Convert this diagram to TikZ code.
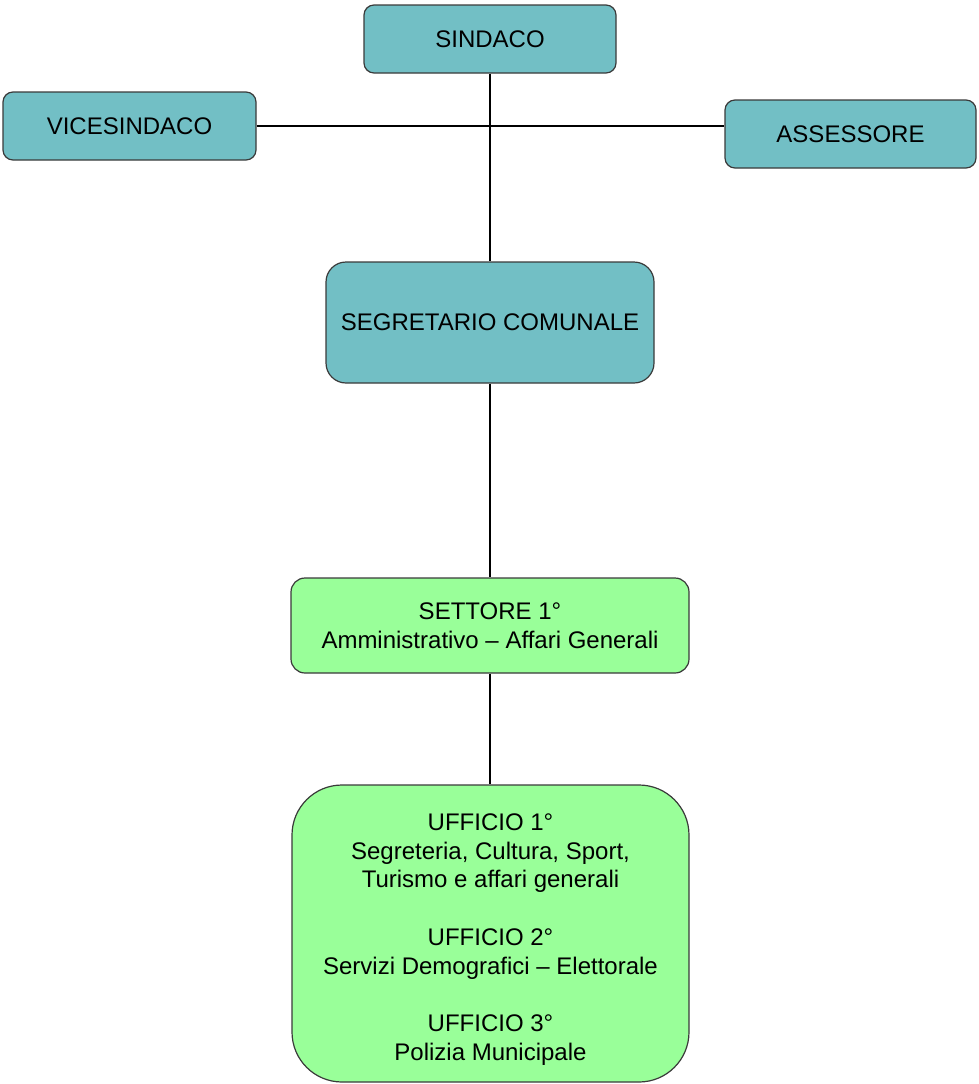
\documentclass[tikz,border=0pt]{standalone}
\usepackage{fontspec}
\setmainfont{Liberation Sans}
\definecolor{tealbox}{HTML}{72BFC5}
\definecolor{greenbox}{HTML}{99FF99}
\definecolor{edgegray}{HTML}{3A3A3A}
\begin{document}
\begin{tikzpicture}[x=1pt,y=1pt,
  box/.style={draw=edgegray, line width=1.2pt, align=center, inner sep=0pt,
    font=\fontsize{24}{28.75}\selectfont},
  tbox/.style={box, fill=tealbox},
  gbox/.style={box, fill=greenbox},
  link/.style={draw=black, line width=1.1pt}]
\useasboundingbox (0,0) rectangle (978,-1084);
\node[tbox, minimum width=252, minimum height=68, rounded corners=10] (sindaco) at (490,-39) {SINDACO};
\node[tbox, minimum width=253, minimum height=68, rounded corners=10] (vice) at (129.5,-126) {VICESINDACO};
\node[tbox, minimum width=251, minimum height=68, rounded corners=10] (asse) at (850.5,-134) {ASSESSORE};
\node[tbox, minimum width=328, minimum height=121, rounded corners=20] (segr) at (490,-322.5) {SEGRETARIO COMUNALE};
\node[gbox, minimum width=398, minimum height=95, rounded corners=14] (sett) at (490,-625.5) {SETTORE 1°\\Amministrativo -- Affari Generali};
\node[gbox, minimum width=397, minimum height=297, rounded corners=50] (uff) at (490.5,-933.5) {\rule{0pt}{8pt}\\[-8pt]UFFICIO 1°\\Segreteria, Cultura, Sport,\\Turismo e affari generali\\[28.75pt]UFFICIO 2°\\Servizi Demografici -- Elettorale\\[28.75pt]UFFICIO 3°\\Polizia Municipale};
\draw[link] (vice.east) -- (vice.east -| asse.west);
\draw[link] (sindaco.south) -- (segr.north);
\draw[link] (segr.south) -- (sett.north);
\draw[link] (sett.south) -- (sett.south |- uff.north);
\end{tikzpicture}
\end{document}
